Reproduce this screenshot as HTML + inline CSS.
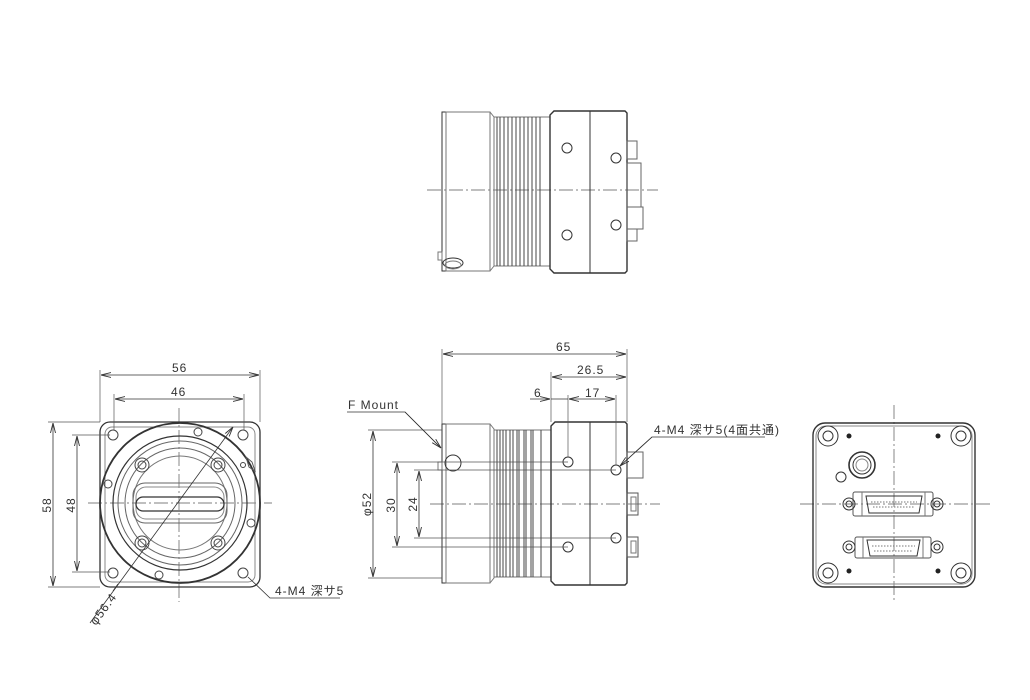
<!DOCTYPE html>
<html><head><meta charset="utf-8"><style>
html,body{margin:0;padding:0;background:#fff;}
svg{display:block;}
text{font-family:"Liberation Sans","Noto Sans CJK JP",sans-serif;font-size:12px;fill:#333;letter-spacing:1px;}
</style></head><body>
<svg width="1030" height="700" viewBox="0 0 1030 700" xmlns="http://www.w3.org/2000/svg">
<defs>
<marker id="a" viewBox="0 0 10 6" refX="10" refY="3" markerWidth="10" markerHeight="6" orient="auto-start-reverse" markerUnits="userSpaceOnUse">
<path d="M0,0.5 L10,3 L0,5.5" fill="none" stroke="#333" stroke-width="0.9"/>
</marker>
</defs>
<g fill="none" stroke="#333" stroke-width="1">

<!-- ===== TOP VIEW ===== -->
<line x1="427" y1="190" x2="658" y2="190" stroke="#555" stroke-width="0.7" stroke-dasharray="14,3,2,3"/>
<rect x="442" y="112" width="4" height="159"/>
<rect x="446" y="112" width="44" height="159" stroke="#777"/>
<path d="M490,112 L494,117 L494,266 L490,271" stroke="#777"/>
<rect x="494" y="117" width="56" height="149" stroke="#777"/>
<g stroke="#444">
<line x1="497" y1="117" x2="497" y2="266"/><line x1="500" y1="117" x2="500" y2="266"/>
<line x1="504" y1="117" x2="504" y2="266"/><line x1="508" y1="117" x2="508" y2="266"/>
<line x1="512" y1="117" x2="512" y2="266"/><line x1="516" y1="117" x2="516" y2="266"/>
<line x1="520" y1="117" x2="520" y2="266"/><line x1="524" y1="117" x2="524" y2="266"/>
<line x1="528" y1="117" x2="528" y2="266"/><line x1="532" y1="117" x2="532" y2="266"/>
<line x1="536" y1="117" x2="536" y2="266"/><line x1="540" y1="117" x2="540" y2="266"/>
</g>
<path d="M554,111 L625,111 L627,113 L627,271 L625,273 L554,273 L550,269 L550,115 Z" stroke-width="1.4"/>
<line x1="590" y1="111" x2="590" y2="273"/>
<circle cx="567" cy="148" r="5"/><circle cx="567" cy="235" r="5"/>
<circle cx="616" cy="158" r="5"/><circle cx="616" cy="225" r="5"/>
<rect x="627" y="141" width="10" height="18" stroke="#666"/>
<rect x="627" y="163" width="14" height="44" stroke="#666"/>
<rect x="627" y="207" width="16" height="22" stroke="#666"/>
<rect x="627" y="229" width="10" height="12" stroke="#666"/>
<ellipse cx="453" cy="263" rx="10" ry="5"/><ellipse cx="453" cy="265" rx="8" ry="4" stroke="#777"/>
<rect x="438" y="252" width="4" height="8" stroke="#777"/>

<!-- ===== FRONT VIEW (left) ===== -->
<line x1="179" y1="408" x2="179" y2="602" stroke="#555" stroke-width="0.7" stroke-dasharray="14,3,2,3"/>
<line x1="88" y1="503" x2="272" y2="503" stroke="#555" stroke-width="0.7" stroke-dasharray="14,3,2,3"/>
<rect x="100" y="422" width="160" height="165" rx="10" stroke-width="1.3"/>
<rect x="105" y="427" width="150" height="155" rx="7" stroke="#888"/>
<circle cx="180" cy="503" r="80" stroke-width="1.8"/>
<circle cx="180" cy="503" r="67" stroke-width="1.2"/>
<circle cx="180" cy="503" r="62" stroke="#666"/>
<circle cx="180" cy="503" r="55" stroke="#666"/>
<circle cx="180" cy="503" r="47" stroke="#777"/>
<g stroke="#444">
<circle cx="113" cy="435" r="5"/><circle cx="243" cy="435" r="5"/>
<circle cx="113" cy="573" r="5"/><circle cx="243" cy="573" r="5"/>
<circle cx="142" cy="465" r="7"/><circle cx="142" cy="465" r="4"/>
<circle cx="218" cy="465" r="7"/><circle cx="218" cy="465" r="4"/>
<circle cx="142" cy="543" r="7"/><circle cx="142" cy="543" r="4"/>
<circle cx="218" cy="543" r="7"/><circle cx="218" cy="543" r="4"/>
<circle cx="198" cy="432" r="4"/><circle cx="108" cy="484" r="4"/>
<circle cx="251" cy="523" r="4"/><circle cx="159" cy="575" r="4"/>
<circle cx="243" cy="465" r="2.5"/>
</g>
<path d="M246,457 L252,462 L255,471 L249,467 Z" stroke="#555"/>
<rect x="133" y="483" width="94" height="40" rx="12" stroke="#666"/>
<rect x="136" y="487" width="88" height="32" rx="10" stroke="#888"/>
<rect x="136" y="497" width="88" height="14" rx="7" stroke-width="1.3"/>
<!-- dims -->
<line x1="100" y1="422" x2="100" y2="370" stroke="#555" stroke-width="0.7"/>
<line x1="260" y1="422" x2="260" y2="370" stroke="#555" stroke-width="0.7"/>
<line x1="101" y1="375" x2="259" y2="375" stroke-width="0.8" marker-start="url(#a)" marker-end="url(#a)"/>
<line x1="114" y1="430" x2="114" y2="394" stroke="#555" stroke-width="0.7"/>
<line x1="244" y1="430" x2="244" y2="394" stroke="#555" stroke-width="0.7"/>
<line x1="115" y1="399" x2="243" y2="399" stroke-width="0.8" marker-start="url(#a)" marker-end="url(#a)"/>
<line x1="48" y1="422" x2="100" y2="422" stroke="#555" stroke-width="0.7"/>
<line x1="48" y1="587" x2="100" y2="587" stroke="#555" stroke-width="0.7"/>
<line x1="53" y1="423" x2="53" y2="586" stroke-width="0.8" marker-start="url(#a)" marker-end="url(#a)"/>
<line x1="72" y1="435" x2="110" y2="435" stroke="#555" stroke-width="0.7"/>
<line x1="72" y1="572" x2="110" y2="572" stroke="#555" stroke-width="0.7"/>
<line x1="77" y1="436" x2="77" y2="571" stroke-width="0.8" marker-start="url(#a)" marker-end="url(#a)"/>
<line x1="90" y1="623" x2="233" y2="427" stroke-width="0.8" marker-end="url(#a)"/>
<line x1="118" y1="584" x2="113" y2="591" stroke-width="0.8"/>
<polyline points="248,577 270,598 340,598" stroke-width="0.8"/>

<!-- ===== SIDE VIEW ===== -->
<line x1="430" y1="504" x2="660" y2="504" stroke="#555" stroke-width="0.7" stroke-dasharray="14,3,2,3"/>
<rect x="442" y="424" width="4" height="159"/>
<rect x="446" y="424" width="44" height="159" stroke="#777"/>
<path d="M490,424 L494,429 L494,578 L490,583" stroke="#777"/>
<rect x="494" y="430" width="57" height="147" stroke="#777"/>
<g stroke="#444">
<line x1="497" y1="430" x2="497" y2="577"/><line x1="500" y1="430" x2="500" y2="577"/>
<line x1="503" y1="430" x2="503" y2="577"/><line x1="506" y1="430" x2="506" y2="577"/>
<line x1="510" y1="430" x2="510" y2="577"/><line x1="513" y1="430" x2="513" y2="577"/>
<line x1="517" y1="430" x2="517" y2="577"/><line x1="519" y1="430" x2="519" y2="577"/>
<line x1="524" y1="430" x2="524" y2="577"/><line x1="526" y1="430" x2="526" y2="577"/>
<line x1="531" y1="430" x2="531" y2="577"/><line x1="533" y1="430" x2="533" y2="577"/>
<line x1="541" y1="430" x2="541" y2="577"/>
</g>
<path d="M555,422 L625,422 L627,424 L627,583 L625,585 L555,585 L551,581 L551,426 Z" stroke-width="1.4"/>
<line x1="590" y1="422" x2="590" y2="585"/>
<circle cx="568" cy="462" r="5"/><circle cx="568" cy="547" r="5"/>
<circle cx="616" cy="470" r="5"/><circle cx="616" cy="538" r="5"/>
<circle cx="453" cy="463" r="8"/>
<rect x="438" y="462" width="4" height="8" stroke="#777"/>
<rect x="627" y="452" width="16" height="26" stroke="#666"/>
<rect x="627" y="493" width="11" height="22" stroke="#555"/>
<rect x="631" y="497" width="5" height="14" stroke="#777"/>
<rect x="627" y="537" width="11" height="20" stroke="#555"/>
<rect x="631" y="541" width="5" height="12" stroke="#777"/>
<!-- side dims -->
<g stroke="#555" stroke-width="0.7">
<line x1="442" y1="424" x2="442" y2="349"/>
<line x1="627" y1="422" x2="627" y2="349"/>
<line x1="551" y1="422" x2="551" y2="372"/>
<line x1="568" y1="457" x2="568" y2="395"/>
<line x1="616" y1="465" x2="616" y2="395"/>
<line x1="368" y1="430" x2="442" y2="430"/>
<line x1="368" y1="578" x2="442" y2="578"/>
<line x1="392" y1="462" x2="568" y2="462"/>
<line x1="392" y1="547" x2="568" y2="547"/>
<line x1="414" y1="470" x2="616" y2="470"/>
<line x1="414" y1="538" x2="616" y2="538"/>
</g>
<line x1="443" y1="354" x2="626" y2="354" stroke-width="0.8" marker-start="url(#a)" marker-end="url(#a)"/>
<line x1="552" y1="377" x2="626" y2="377" stroke-width="0.8" marker-start="url(#a)" marker-end="url(#a)"/>
<line x1="530" y1="399" x2="550" y2="399" stroke-width="0.8" marker-end="url(#a)"/>
<line x1="551" y1="399" x2="568" y2="399" stroke-width="0.8"/>
<line x1="569" y1="399" x2="615" y2="399" stroke-width="0.8" marker-start="url(#a)" marker-end="url(#a)"/>
<line x1="373" y1="431" x2="373" y2="577" stroke-width="0.8" marker-start="url(#a)" marker-end="url(#a)"/>
<line x1="397" y1="463" x2="397" y2="546" stroke-width="0.8" marker-start="url(#a)" marker-end="url(#a)"/>
<line x1="419" y1="471" x2="419" y2="537" stroke-width="0.8" marker-start="url(#a)" marker-end="url(#a)"/>
<polyline points="347,412 405,412 441,448" stroke-width="0.8"/>
<line x1="405" y1="412" x2="441" y2="448" stroke-width="0.8" marker-end="url(#a)"/>
<polyline points="765,437 652,437 620,466" stroke-width="0.8"/>
<line x1="652" y1="437" x2="620" y2="466" stroke-width="0.8" marker-end="url(#a)"/>

<!-- ===== BACK VIEW ===== -->
<line x1="894" y1="405" x2="894" y2="602" stroke="#555" stroke-width="0.7" stroke-dasharray="14,3,2,3"/>
<line x1="800" y1="504" x2="992" y2="504" stroke="#555" stroke-width="0.7" stroke-dasharray="14,3,2,3"/>
<rect x="813" y="423" width="162" height="164" rx="12" stroke-width="1.4"/>
<rect x="816" y="426" width="156" height="158" rx="10" stroke="#888"/>
<g>
<circle cx="828" cy="436" r="10"/><circle cx="828" cy="436" r="5"/>
<circle cx="961" cy="436" r="10"/><circle cx="961" cy="436" r="5"/>
<circle cx="828" cy="573" r="10"/><circle cx="828" cy="573" r="5"/>
<circle cx="961" cy="573" r="10"/><circle cx="961" cy="573" r="5"/>
</g>
<g fill="#222" stroke="none">
<circle cx="849" cy="436" r="2.5"/><circle cx="938" cy="436" r="2.5"/>
<circle cx="849" cy="571" r="2.5"/><circle cx="938" cy="571" r="2.5"/>
</g>
<circle cx="862" cy="465" r="13" stroke-width="1.6"/>
<circle cx="862" cy="465" r="9"/>
<circle cx="862" cy="465" r="6" stroke="#888"/>
<circle cx="841" cy="477" r="5"/>
<!-- dsub 1 -->
<rect x="853" y="492" width="80" height="24" rx="2" stroke="#555"/>
<line x1="862" y1="492" x2="862" y2="516" stroke="#777"/><line x1="925" y1="492" x2="925" y2="516" stroke="#777"/>
<path d="M866,496 L922,496 L919,513 L869,513 Z"/>
<line x1="871" y1="502" x2="917" y2="502" stroke="#777" stroke-dasharray="1.5,1.5"/>
<line x1="873" y1="507" x2="915" y2="507" stroke="#777" stroke-dasharray="1.5,1.5"/>
<circle cx="849" cy="504" r="6"/><circle cx="849" cy="504" r="3"/>
<circle cx="937" cy="504" r="6"/><circle cx="937" cy="504" r="3"/>
<!-- dsub 2 -->
<rect x="855" y="537" width="76" height="21" rx="2" stroke="#555"/>
<line x1="863" y1="537" x2="863" y2="558" stroke="#777"/><line x1="923" y1="537" x2="923" y2="558" stroke="#777"/>
<path d="M867,540 L920,540 L917,556 L870,556 Z"/>
<line x1="872" y1="546" x2="915" y2="546" stroke="#777" stroke-dasharray="1.5,1.5"/>
<line x1="874" y1="551" x2="913" y2="551" stroke="#777" stroke-dasharray="1.5,1.5"/>
<circle cx="849" cy="547" r="6"/><circle cx="849" cy="547" r="3"/>
<circle cx="937" cy="547" r="6"/><circle cx="937" cy="547" r="3"/>
</g>

<!-- ===== TEXT ===== -->
<text x="172" y="372">56</text>
<text x="171" y="396">46</text>
<text transform="translate(51,505) rotate(-90)" text-anchor="middle">58</text>
<text transform="translate(75,505) rotate(-90)" text-anchor="middle">48</text>
<text transform="translate(96,626) rotate(-54)">φ56.4</text>
<text x="275" y="595">4-M4  深サ5</text>
<text x="556" y="351">65</text>
<text x="577" y="374">26.5</text>
<text x="534" y="397">6</text>
<text x="585" y="397">17</text>
<text x="348" y="409">F Mount</text>
<text x="654" y="434">4-M4  深サ5(4面共通)</text>
<text transform="translate(371,504) rotate(-90)" text-anchor="middle">φ52</text>
<text transform="translate(395,505) rotate(-90)" text-anchor="middle">30</text>
<text transform="translate(417,504) rotate(-90)" text-anchor="middle">24</text>
</svg>
</body></html>
